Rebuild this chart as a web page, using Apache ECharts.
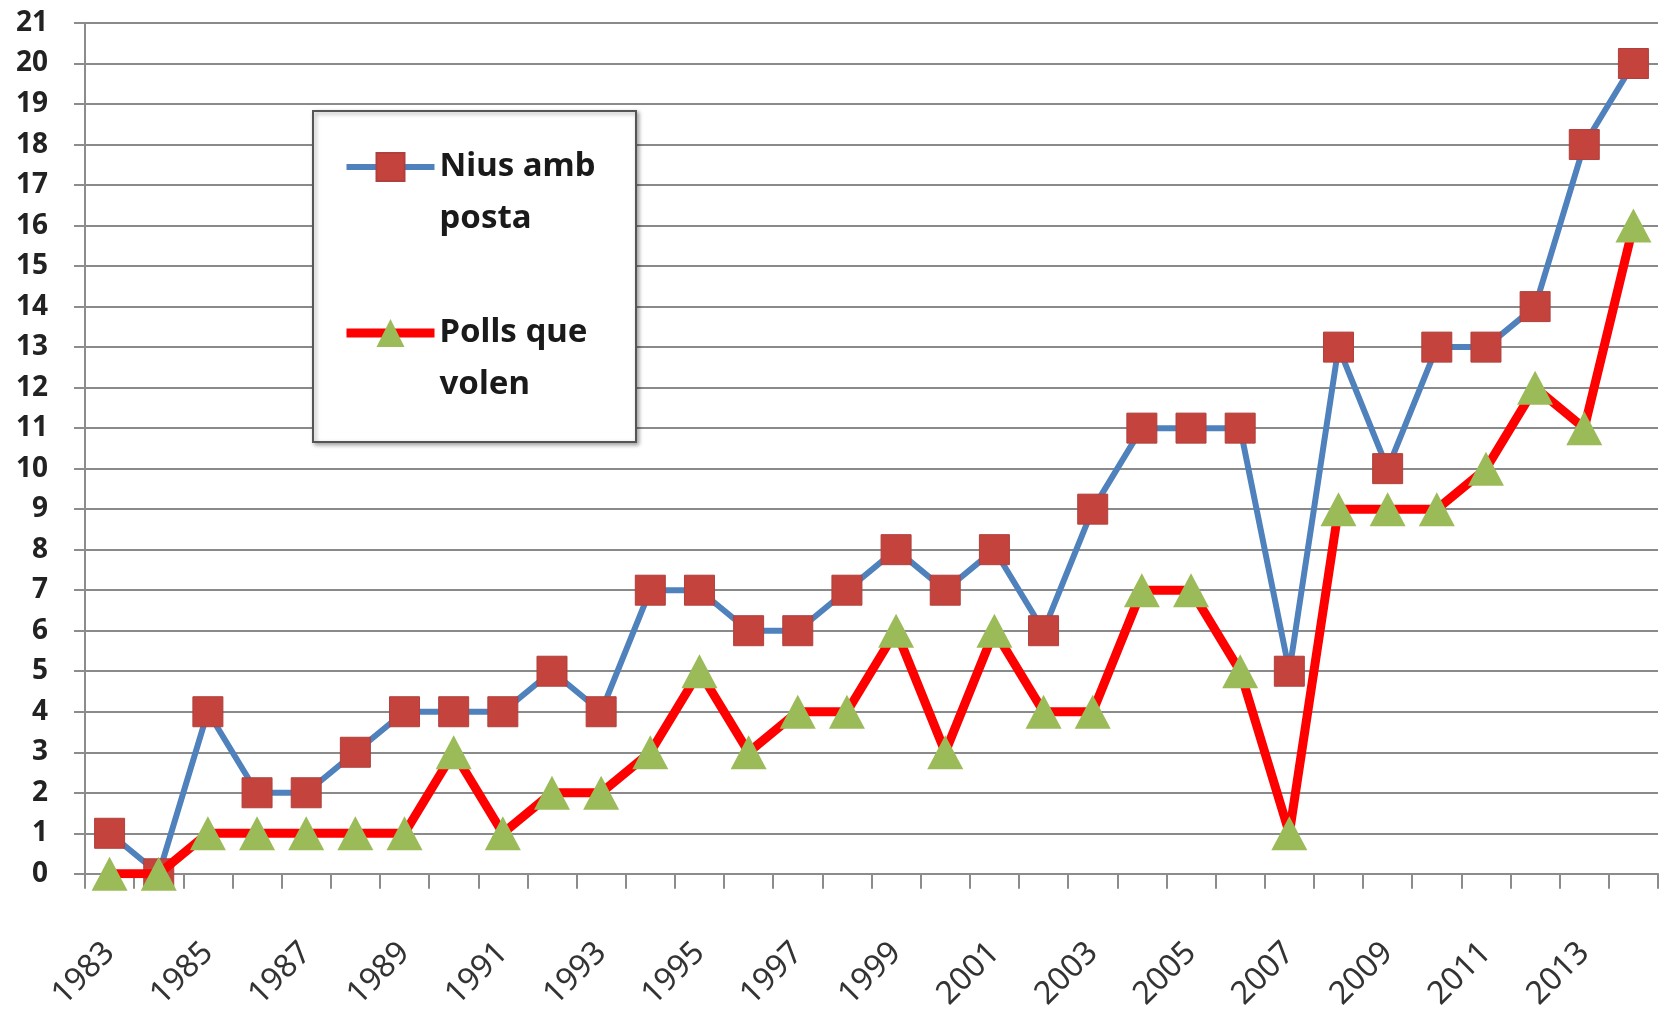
<!DOCTYPE html>
<html>
<head>
<meta charset="utf-8">
<script src="https://cdn.jsdelivr.net/npm/echarts@6/dist/echarts.min.js"></script>
<style>
html,body{margin:0;padding:0;background:#fff;}
#chart{width:1666px;height:1013px;}
</style>
</head>
<body>
<div id="chart"></div>
<script>
var years = ['1983','1984','1985','1986','1987','1988','1989','1990','1991','1992','1993','1994','1995','1996','1997','1998','1999','2000','2001','2002','2003','2004','2005','2006','2007','2008','2009','2010','2011','2012','2013','2014'];
var niusAmbPosta = [1,0,4,2,2,3,4,4,4,5,4,7,7,6,6,7,8,7,8,6,9,11,11,11,5,13,10,13,13,14,18,20];
var pollsQueVolen = [0,0,1,1,1,1,1,3,1,2,2,3,5,3,4,4,6,3,6,4,4,7,7,5,1,9,9,9,10,12,11,16];
var seriesNames = ['Nius amb posta', 'Polls que volen'];
var legendLabels = {'Nius amb posta': ' \nNius amb\nposta', 'Polls que volen': ' \nPolls que\nvolen'};

var chart = echarts.init(document.getElementById('chart'), null, {renderer: 'canvas'});
var option = {
  backgroundColor: '#ffffff',
  animation: false,
  grid: {left: 85, right: 8, top: 23, bottom: 135, containLabel: false},
  xAxis: {
    type: 'category',
    data: years,
    boundaryGap: true,
    axisLine: {show: true, lineStyle: {color: '#8c8c8c', width: 2}},
    axisTick: {show: true, interval: 0, length: 15, lineStyle: {color: '#8c8c8c', width: 2}},
    axisLabel: {interval: 1, rotate: 45, margin: 74, fontFamily: 'Noto Sans', fontSize: 32, color: '#333'},
    splitLine: {show: false}
  },
  yAxis: {
    type: 'value',
    min: 0, max: 21, interval: 1,
    axisLine: {show: true, lineStyle: {color: '#8c8c8c', width: 2}},
    axisTick: {show: true, length: 11, lineStyle: {color: '#8c8c8c', width: 2}},
    axisLabel: {margin: 37, fontFamily: 'Noto Sans', fontWeight: 'bold', fontSize: 28, color: '#222'},
    splitLine: {show: true, lineStyle: {color: '#8a8a8a', width: 2}}
  },
  graphic: [{
    type: 'rect', left: 312, top: 110, z: 5,
    shape: {width: 323, height: 331},
    style: {fill: '#fff', stroke: '#555', lineWidth: 2, shadowBlur: 4, shadowColor: 'rgba(0,0,0,0.35)', shadowOffsetX: 2, shadowOffsetY: 2}
  }],
  legend: {
    show: true, z: 10,
    orient: 'vertical',
    left: 342, top: 89,
    itemWidth: 88, itemHeight: 35,
    itemGap: 10,
    padding: 0,
    data: [
      {name: seriesNames[0], lineStyle: {width: 6}},
      {name: seriesNames[1], lineStyle: {width: 9}}
    ],
    formatter: function (n) { return legendLabels[n]; },
    textStyle: {fontFamily: 'Noto Sans', fontWeight: 'bold', fontSize: 33, color: '#1a1a1a', lineHeight: 52}
  },
  series: [
    {
      name: seriesNames[0], type: 'line', data: niusAmbPosta,
      symbol: 'rect', symbolSize: 30, showAllSymbol: true,
      lineStyle: {color: '#4f81bd', width: 6},
      itemStyle: {color: '#c4433d', borderColor: '#b0403d', borderWidth: 1},
      z: 2
    },
    {
      name: seriesNames[1], type: 'line', data: pollsQueVolen,
      symbol: 'triangle', symbolSize: [36, 34], showAllSymbol: true,
      lineStyle: {color: '#ff0000', width: 9},
      itemStyle: {color: '#9bbb59'},
      z: 3
    }
  ]
};
chart.setOption(option);
</script>
</body>
</html>
